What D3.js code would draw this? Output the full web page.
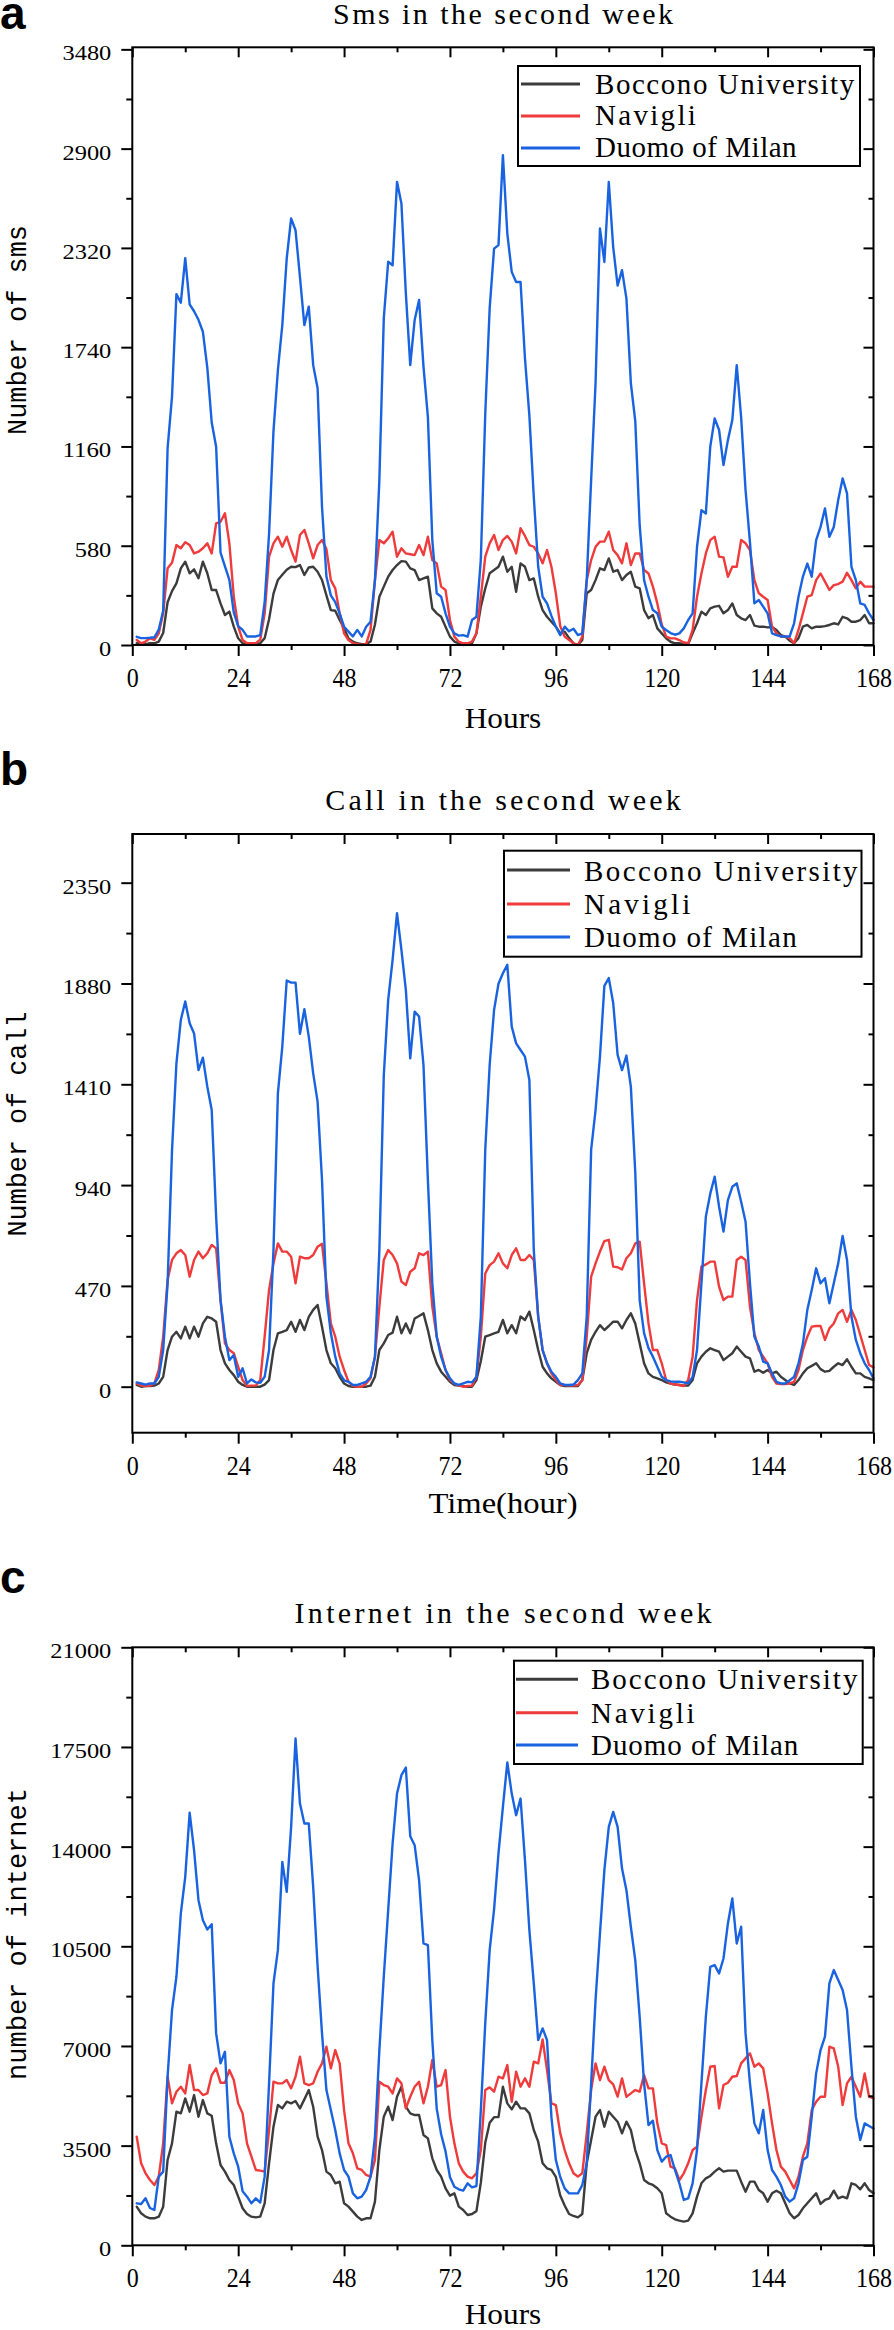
<!DOCTYPE html>
<html><head><meta charset="utf-8">
<script src="https://cdn.jsdelivr.net/npm/d3@7"></script>
<style>body{margin:0;background:#fff}svg{display:block}</style>
</head><body>
<svg id="chart" width="894" height="2330"></svg>
<script>
// ---------------- data ----------------
const hours = d3.range(1, 169);
const seriesNames = ["Boccono University", "Navigli", "Duomo of Milan"];
const seriesColors = ["#3c3c3c", "#ef3b3b", "#1a63e0"];
const hourTicks = [0, 24, 48, 72, 96, 120, 144, 168];
const smsTicks = [0, 580, 1160, 1740, 2320, 2900, 3480];
const callTicks = [0, 470, 940, 1410, 1880, 2350];
const netTicks = [0, 3500, 7000, 10500, 14000, 17500, 21000];
const panelTitles = ["Sms in the second week", "Call in the second week", "Internet in the second week"];
const yTitles = ["Number of sms", "Number of call", "number of internet"];
const xTitles = ["Hours", "Time(hour)", "Hours"];
const panelLetters = ["a", "b", "c"];

const smsBoccono = [
10,10,5,10,10,20,70,250,315,360,448,487,419,442,390,487,419,321,321,243,175,195,107,39,
10,5,5,5,10,40,150,300,380,410,440,457,455,467,409,453,457,428,380,290,204,200,146,97,
39,19,10,5,5,20,120,282,341,399,438,467,490,487,448,438,379,389,399,214,185,165,107,49,
20,10,0,5,10,68,224,330,419,438,457,516,428,457,311,477,457,379,389,282,204,165,136,107,
68,78,40,10,0,30,302,321,379,448,438,506,428,438,379,409,428,341,331,204,156,175,97,68,
39,19,10,10,5,5,68,127,195,175,214,224,229,185,204,243,175,156,146,175,113,107,107,103,
105,88,58,49,25,10,40,107,117,97,107,107,110,117,127,120,165,156,136,136,146,175,127,127];
const smsNavigli = [
29,10,20,39,30,68,185,448,480,584,565,600,584,535,545,565,594,535,711,720,770,594,282,107,
29,10,10,10,31,185,516,594,633,574,633,555,487,643,672,594,506,584,613,560,379,331,185,68,
29,10,5,0,5,88,379,613,594,623,662,516,565,535,530,525,584,525,633,496,477,341,321,146,
49,19,10,10,20,68,282,516,594,643,555,613,637,604,535,682,637,584,574,535,477,555,457,302,
110,49,29,10,0,49,379,496,574,604,604,662,555,525,477,594,467,535,535,438,418,341,243,120,
49,39,39,29,15,10,88,282,418,535,613,633,516,512,399,457,457,613,594,555,379,302,282,263,
107,68,49,49,40,10,88,185,282,292,379,418,370,321,350,356,370,422,379,331,370,341,341,341];
const smsDuomo = [
48,40,40,42,45,90,200,1150,1450,2050,2000,2260,1990,1950,1900,1830,1620,1300,1158,540,460,380,190,110,
88,50,50,50,58,250,650,1250,1606,1869,2258,2492,2423,2150,1869,1977,1635,1500,808,400,290,250,185,107,
78,50,88,50,107,136,379,963,1908,2239,2219,2706,2580,2055,1635,1899,2016,1626,1333,613,302,282,185,107,
68,55,58,49,146,165,500,1350,1967,2316,2336,2862,2404,2180,2121,2121,1675,1340,866,457,282,243,170,107,
58,107,80,95,58,68,379,963,1529,2433,2238,2705,2325,2100,2190,2024,1530,1310,700,379,282,204,185,107,
88,70,60,68,97,146,185,574,788,768,1158,1324,1256,1051,1197,1314,1635,1330,905,600,243,263,224,185,
68,58,50,50,50,127,282,400,476,399,613,690,798,632,690,847,973,886,457,379,243,234,185,146];

const callBoccono = [
8,0,3,3,5,15,46,171,233,256,225,280,225,280,233,295,326,318,303,171,109,78,54,23,
8,0,0,0,0,10,31,171,249,256,264,303,256,311,264,326,358,381,280,171,109,86,46,15,
3,0,0,0,0,5,46,171,202,241,252,326,249,295,249,318,330,342,264,171,109,70,46,23,
8,5,3,0,0,31,120,233,241,249,256,311,249,287,249,327,311,350,264,171,93,62,39,23,
8,3,3,3,3,31,156,218,256,287,264,283,303,303,272,311,342,295,202,109,62,46,39,31,
20,15,10,8,5,5,31,109,140,163,179,171,163,124,140,156,187,163,140,132,70,78,65,78,
62,70,46,31,15,8,31,62,86,97,109,82,70,74,93,109,101,128,93,62,62,46,39,30];
const callNavigli = [
15,5,3,5,15,78,233,498,591,622,637,614,513,591,630,599,622,661,645,404,202,171,156,93,
31,3,5,5,31,233,451,575,668,630,630,606,482,606,599,599,614,653,666,482,295,233,140,78,
23,3,0,0,15,40,140,373,591,637,614,575,490,474,536,552,622,614,630,373,233,156,78,31,
15,5,0,3,5,46,233,528,567,583,622,575,552,614,645,591,591,614,591,327,171,109,62,31,
8,8,5,5,8,31,233,513,575,630,679,685,560,557,547,599,622,668,676,482,295,171,171,109,
31,15,10,8,3,31,140,404,560,570,583,583,466,404,420,420,591,606,591,373,249,171,140,109,
46,15,12,12,15,23,78,171,233,280,283,283,218,272,295,342,358,303,358,311,241,171,101,90];
const callDuomo = [
20,15,10,15,15,46,171,482,1100,1508,1710,1796,1695,1647,1476,1534,1399,1290,793,404,233,124,147,46,
86,15,34,20,18,46,171,637,1368,1586,1894,1884,1884,1645,1760,1632,1461,1329,964,420,250,140,62,30,
23,8,8,15,23,46,140,637,1450,1804,1990,2208,2037,1850,1531,1749,1726,1500,963,482,233,140,78,39,
15,8,15,23,20,46,327,1104,1500,1757,1879,1928,1967,1679,1601,1570,1539,1430,637,327,171,110,70,46,
15,8,8,10,31,62,327,1104,1290,1539,1869,1905,1789,1547,1476,1544,1399,1000,404,250,180,140,93,46,
31,25,23,23,20,15,46,171,482,793,900,979,839,723,870,932,948,862,769,482,233,187,117,109,
62,23,15,15,30,46,109,200,358,451,552,482,506,389,482,575,703,591,327,218,156,109,78,39];

const netBoccono = [
1357,1123,1006,948,948,1006,1357,2996,3580,4692,4633,5160,4692,5276,4516,5101,4633,4551,3580,2820,2587,2294,2118,1708,
1300,1100,1006,980,1006,1474,2879,4165,4926,4809,5042,4984,5066,4809,5125,5452,4867,3814,3346,2587,2469,2177,2235,1474,
1357,1182,1006,889,948,948,1533,3346,4516,4867,4399,5218,5569,4867,4633,4575,4575,3872,3755,3054,2645,2411,2001,1743,
1825,1357,1240,1065,1100,1200,2200,3600,4300,4500,4500,5569,4984,4774,5042,4809,4809,4633,4048,3639,2879,2703,2645,2400,
1750,1400,1100,1030,980,1100,2879,3697,4516,4750,4165,4692,4516,4341,3931,4341,4048,3346,2879,2294,2177,2118,2001,1825,
1123,1006,912,865,830,865,1123,1708,2177,2352,2435,2587,2703,2587,2622,2622,2622,2235,1884,2235,2235,1942,1825,1533,
1825,1919,1825,1474,1123,948,1065,1299,1474,1650,1825,1451,1591,1650,1919,1650,1708,1650,2177,2118,1966,2177,1942,1825];
const netNavigli = [
3814,2879,2528,2294,2118,2411,3580,5920,4984,5393,5569,5335,6330,5452,5452,5276,5335,5978,6213,5710,5710,6154,5803,4984,
4633,3580,3112,2645,2622,2587,4048,5745,5686,5686,5803,5511,5920,6622,5686,5628,5686,6096,6388,6973,6213,6856,6388,4750,
3580,3229,2703,2645,2469,2411,3000,5745,5628,5569,5335,5862,5686,4809,5218,5569,5745,4984,5569,6505,5569,5628,6154,4516,
3580,2879,2587,2411,2352,2528,3346,5452,5546,5393,5920,5860,6330,5042,6096,5569,5862,5569,6447,6388,7230,6154,4984,4926,
3931,3346,2879,2528,2411,2528,3931,5452,6388,5803,6271,5803,5650,5218,5862,5218,5335,5452,5393,5978,5511,5511,4282,3580,
3522,2762,2703,2294,2528,2879,3346,3463,4516,5452,6271,6295,4809,5628,5710,5920,5944,6388,6564,6739,6271,6388,6213,5335,
4282,3346,2762,2587,2294,2001,2411,3112,3580,4750,5042,5218,5218,6973,6914,6271,4926,5686,5920,5569,5218,6037,5218,5160];
const netDuomo = [
1474,1451,1650,1310,1240,2411,2587,5920,8260,9430,11653,12940,15195,13873,12118,11416,11088,11275,7441,6388,6797,3814,3229,2761,
1900,1708,1474,1650,1500,2411,5686,9196,10365,13466,12412,14694,17795,15513,14811,14811,12587,9800,7441,5452,4750,4048,3229,2645,
2411,1825,1650,1708,1942,2411,3814,6856,9430,11770,14110,15864,16508,16777,14367,14051,12822,10599,10541,7200,4800,3900,3300,2400,
2059,1966,1919,2177,2036,2083,4750,7792,10365,11800,13760,15398,16954,15864,15104,15689,13525,11069,9196,7207,7617,7207,4500,3000,
2400,2000,1825,1825,1825,2118,2879,5686,8611,10951,13174,14694,15221,14694,13232,12472,11186,10014,8026,5686,4223,4375,3346,2937,
3112,3171,2645,2177,1591,1650,2177,3346,5686,8026,9781,9840,9547,10072,11303,12180,10599,11186,7441,5686,4282,3931,4750,3346,
2645,2411,2118,1708,1533,1650,2177,2996,3112,4516,6037,6856,7324,9196,9664,9313,8962,8260,6271,4516,3697,4282,4189,4100];

// ---------------- layout ----------------
const X0 = 132.3, X1 = 873.5, PLOT_CX = 503;
const SERIF = "'Liberation Serif','Times New Roman',serif";
const MONO = "'Liberation Mono','Courier New',monospace";
const panels = [
  {series:[smsBoccono, smsNavigli, smsDuomo], ticks:smsTicks, top:47.3, bottom:645, yDom:[0,3492],
   letterY:29, titleY:24, xTitleY:728, yTitleCY:330, yTitleLen:210, xTitleCW:15.3,
   leg:{x:518, y:66, w:342, h:100, l1:521, l2:580, tx:595, rows:[84,116,148], bases:[94.3,125,156.7], cw:14.4}},
  {series:[callBoccono, callNavigli, callDuomo], ticks:callTicks, top:834, bottom:1432.7, yDom:[-214.5,2577],
   letterY:785, titleY:810, xTitleY:1513, yTitleCY:1124, yTitleLen:225, xTitleCW:14.9,
   leg:{x:504, y:850.7, w:357.5, h:106, l1:507, l2:570, tx:584, rows:[870,904,937], bases:[880.7,914,947], cw:15.2}},
  {series:[netBoccono, netNavigli, netDuomo], ticks:netTicks, top:1647.3, bottom:2245.3, yDom:[0,21000],
   letterY:1593, titleY:1623, xTitleY:2323.5, yTitleCY:1934, yTitleLen:292, xTitleCW:15.3,
   leg:{x:514, y:1660.7, w:348.7, h:103.3, l1:516, l2:578, tx:591, rows:[1679.3,1712.7,1745], bases:[1689.3,1723.3,1755], cw:14.8}}
];

const svg = d3.select("#chart");
const x = d3.scaleLinear().domain([0, 168]).range([X0, X1]);
const hourMinor = hourTicks.slice(0, -1).map((d, i) => (d + hourTicks[i + 1]) / 2);

function styleAxis(g) {
  g.select(".domain").remove();
  g.selectAll(".tick line").attr("stroke", "#000").attr("stroke-width", 2);
}

panels.forEach((p, pi) => {
  const y = d3.scaleLinear().domain(p.yDom).range([p.bottom, p.top]);
  const step = p.ticks[1] - p.ticks[0];
  const yMinor = d3.range(p.ticks[0] - step / 2, p.ticks[p.ticks.length - 1] + step, step)
                   .filter(v => v > p.yDom[0] && v < p.yDom[1]);
  const g = svg.append("g");

  // series lines
  const line = d3.line().x((d, i) => x(hours[i])).y(d => y(d));
  p.series.forEach((arr, si) => {
    g.append("path").datum(arr).attr("d", line)
      .attr("fill", "none").attr("stroke", seriesColors[si])
      .attr("stroke-width", 2.4).attr("stroke-linejoin", "round").attr("stroke-linecap", "round");
  });

  // frame
  g.append("rect").attr("x", X0).attr("y", p.top).attr("width", X1 - X0).attr("height", p.bottom - p.top)
    .attr("fill", "none").attr("stroke", "#000").attr("stroke-width", 2);

  // left axis (outward)
  const left = g.append("g").attr("transform", `translate(${X0},0)`)
    .call(d3.axisLeft(y).tickValues(p.ticks).tickSize(11).tickPadding(10).tickFormat(d3.format("d")));
  styleAxis(left);
  left.selectAll("text")
    .attr("font-family", SERIF).attr("font-size", 21.5).attr("fill", "#000")
    .attr("dy", 10.5)
    .attr("textLength", d => String(d).length * 12.2).attr("lengthAdjust", "spacingAndGlyphs");
  const leftMinor = g.append("g").attr("transform", `translate(${X0},0)`)
    .call(d3.axisLeft(y).tickValues(yMinor).tickSize(6).tickFormat(""));
  styleAxis(leftMinor);

  // right axis (inward)
  const right = g.append("g").attr("transform", `translate(${X1},0)`)
    .call(d3.axisRight(y).tickValues(p.ticks).tickSize(-10).tickFormat(""));
  styleAxis(right);
  const rightMinor = g.append("g").attr("transform", `translate(${X1},0)`)
    .call(d3.axisRight(y).tickValues(yMinor).tickSize(-5).tickFormat(""));
  styleAxis(rightMinor);

  // bottom axis (outward); labels are tall and narrow
  const bottom = g.append("g").attr("transform", `translate(0,${p.bottom})`)
    .call(d3.axisBottom(x).tickValues(hourTicks).tickSize(11).tickFormat(d3.format("d")));
  styleAxis(bottom);
  bottom.selectAll("text")
    .attr("font-family", SERIF).attr("font-size", 24).attr("fill", "#000")
    .attr("y", 0).attr("dy", 0)
    .attr("transform", "translate(0,42) scale(1,1.14)");
  const bottomMinor = g.append("g").attr("transform", `translate(0,${p.bottom})`)
    .call(d3.axisBottom(x).tickValues(hourMinor).tickSize(5).tickFormat(""));
  styleAxis(bottomMinor);

  // top axis (inward)
  const topAx = g.append("g").attr("transform", `translate(0,${p.top})`)
    .call(d3.axisTop(x).tickValues(hourTicks).tickSize(-10).tickFormat(""));
  styleAxis(topAx);
  const topMinor = g.append("g").attr("transform", `translate(0,${p.top})`)
    .call(d3.axisTop(x).tickValues(hourMinor).tickSize(-5).tickFormat(""));
  styleAxis(topMinor);

  // titles
  g.append("text").text(panelTitles[pi])
    .attr("x", PLOT_CX).attr("y", p.titleY).attr("text-anchor", "middle")
    .attr("font-family", SERIF).attr("font-size", 30).attr("fill", "#000")
    .attr("textLength", panelTitles[pi].length * 15.45).attr("lengthAdjust", "spacing");
  g.append("text").text(xTitles[pi])
    .attr("x", PLOT_CX).attr("y", p.xTitleY).attr("text-anchor", "middle")
    .attr("font-family", SERIF).attr("font-size", 30).attr("fill", "#000")
    .attr("textLength", xTitles[pi].length * p.xTitleCW).attr("lengthAdjust", "spacingAndGlyphs");
  g.append("text").text(yTitles[pi])
    .attr("transform", `translate(26,${p.yTitleCY}) rotate(-90)`)
    .attr("text-anchor", "middle")
    .attr("font-family", MONO).attr("font-size", 28).attr("fill", "#000")
    .attr("textLength", p.yTitleLen).attr("lengthAdjust", "spacingAndGlyphs");

  // panel letter
  g.append("text").text(panelLetters[pi])
    .attr("x", 0).attr("y", p.letterY)
    .attr("font-family", "'Liberation Sans',Arial,sans-serif").attr("font-weight", "bold")
    .attr("font-size", 46).attr("fill", "#000");

  // legend
  const L = p.leg;
  g.append("rect").attr("x", L.x).attr("y", L.y).attr("width", L.w).attr("height", L.h)
    .attr("fill", "#fff").attr("stroke", "#000").attr("stroke-width", 2);
  seriesNames.forEach((name, si) => {
    g.append("line").attr("x1", L.l1).attr("x2", L.l2).attr("y1", L.rows[si]).attr("y2", L.rows[si])
      .attr("stroke", seriesColors[si]).attr("stroke-width", 3);
    g.append("text").text(name).attr("x", L.tx).attr("y", L.bases[si])
      .attr("font-family", SERIF).attr("font-size", 29).attr("fill", "#000")
      .attr("textLength", name.length * L.cw).attr("lengthAdjust", "spacing");
  });
});

// sanity check of data lengths
[smsBoccono, smsNavigli, smsDuomo, callBoccono, callNavigli, callDuomo, netBoccono, netNavigli, netDuomo]
  .forEach((a, i) => { if (a.length !== 168) svg.append("text").attr("x", 300).attr("y", 20 + i * 14)
    .attr("fill", "magenta").attr("font-size", 12).text("len " + i + " = " + a.length); });
</script>
</body></html>
